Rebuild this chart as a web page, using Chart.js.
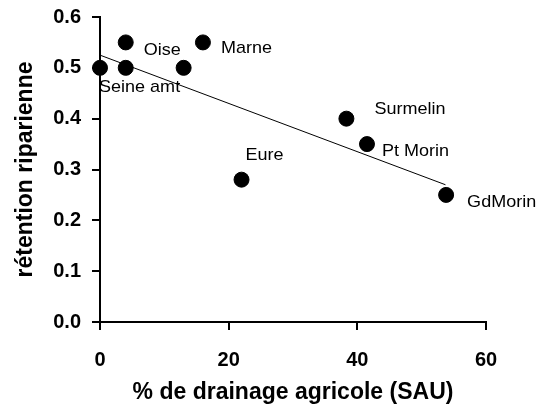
<!DOCTYPE html>
<html>
<head>
<meta charset="utf-8">
<script src="https://cdn.jsdelivr.net/npm/chart.js@4/dist/chart.umd.min.js"></script>
<style>
  html, body { margin: 0; padding: 0; background: #fff; }
  #wrap { width: 539px; height: 406px; }
</style>
</head>
<body>
<div id="wrap"><canvas id="graf"></canvas></div>
<script>
// data
const sites = ['Seine amt', 'Oise a', 'Oise b', 'Oise c', 'Marne', 'Eure', 'Surmelin', 'Pt Morin', 'GdMorin'];
const drainage = [0, 4, 4, 13, 16, 22, 38.3, 41.5, 53.8];
const retention = [0.50, 0.55, 0.50, 0.50, 0.55, 0.28, 0.40, 0.35, 0.25];
const trendX = [0, 53.7];
const trendY = [0.525, 0.27];
const xTicks = [0, 20, 40, 60];
const yTicks = [0.0, 0.1, 0.2, 0.3, 0.4, 0.5, 0.6];

// text shown next to each point (empty = none) and its offset from the point
const labelText = ['Seine amt', '', 'Oise', '', 'Marne', 'Eure', 'Surmelin', 'Pt Morin', 'GdMorin'];
const labelOffset = [[-1, 19], [0, 0], [18, -18], [0, 0], [18, 6], [4, -24], [28, -9], [15, 7], [21, 7]];

const pts = drainage.map((x, i) => ({ x: x, y: retention[i] }));
const trend = trendX.map((x, i) => ({ x: x, y: trendY[i] }));

const labelPlugin = {
    id: 'siteLabels',
    afterDatasetsDraw(chart) {
        const ctx = chart.ctx;
        const meta = chart.getDatasetMeta(1);
        ctx.font = '17px "Liberation Sans", Arial, sans-serif';
        ctx.fillStyle = '#000';
        ctx.textBaseline = 'middle';
        ctx.textAlign = 'left';
        labelText.forEach((t, i) => {
            if (!t) return;
            const p = meta.data[i];
            ctx.save();
            ctx.translate(p.x + labelOffset[i][0], p.y + labelOffset[i][1]);
            ctx.scale(1.06, 1);   // the original text is slightly stretched
            ctx.fillText(t, 0, 0);
            ctx.restore();
        });
    }
};

const tickFont = { family: '"Liberation Sans", Arial, sans-serif', size: 20, weight: 'bold' };
const titleFont = { family: '"Liberation Sans", Arial, sans-serif', size: 23, weight: 'bold' };

new Chart(document.getElementById('graf').getContext('2d'), {
    type: 'scatter',
    data: {
        datasets: [{
            type: 'line',
            data: trend,
            borderColor: '#000',
            borderWidth: 1,
            pointRadius: 0,
            fill: false
        }, {
            data: pts,
            backgroundColor: '#000',
            borderColor: '#000',
            pointRadius: 7.5,
            pointHoverRadius: 7.5,
            clip: false
        }]
    },
    options: {
        responsive: true,
        maintainAspectRatio: false,
        animation: false,
        layout: { padding: { top: 17, right: 53, left: 0, bottom: 0 } },
        plugins: { legend: { display: false }, tooltip: { enabled: false } },
        scales: {
            x: {
                type: 'linear',
                min: 0, max: 60,
                afterBuildTicks: s => { s.ticks = xTicks.map(v => ({ value: v })); },
                afterFit: s => { s.height = 84; s.paddingLeft = 0; s.paddingRight = 0; },
                border: { display: true, color: '#000', width: 2 },
                grid: { drawOnChartArea: false, color: '#000', tickLength: 8, lineWidth: 2 },
                ticks: { color: '#000', font: tickFont, padding: 18 },
                title: {
                    display: true,
                    text: '% de drainage agricole (SAU)',
                    color: '#000',
                    font: titleFont,
                    padding: { top: 0, bottom: 0 }
                }
            },
            y: {
                type: 'linear',
                min: 0, max: 0.6,
                afterBuildTicks: s => { s.ticks = yTicks.map(v => ({ value: v })); },
                afterFit: s => { s.width = 100; s.paddingTop = 0; s.paddingBottom = 0; },
                border: { display: true, color: '#000', width: 2 },
                grid: { drawOnChartArea: false, color: '#000', tickLength: 8, lineWidth: 2 },
                ticks: { color: '#000', font: tickFont, padding: 11, callback: v => Number(v).toFixed(1) },
                title: {
                    display: true,
                    text: 'rétention riparienne',
                    color: '#000',
                    font: titleFont,
                    padding: { top: 12, bottom: 0 }
                }
            }
        }
    },
    plugins: [labelPlugin]
});
</script>
</body>
</html>
